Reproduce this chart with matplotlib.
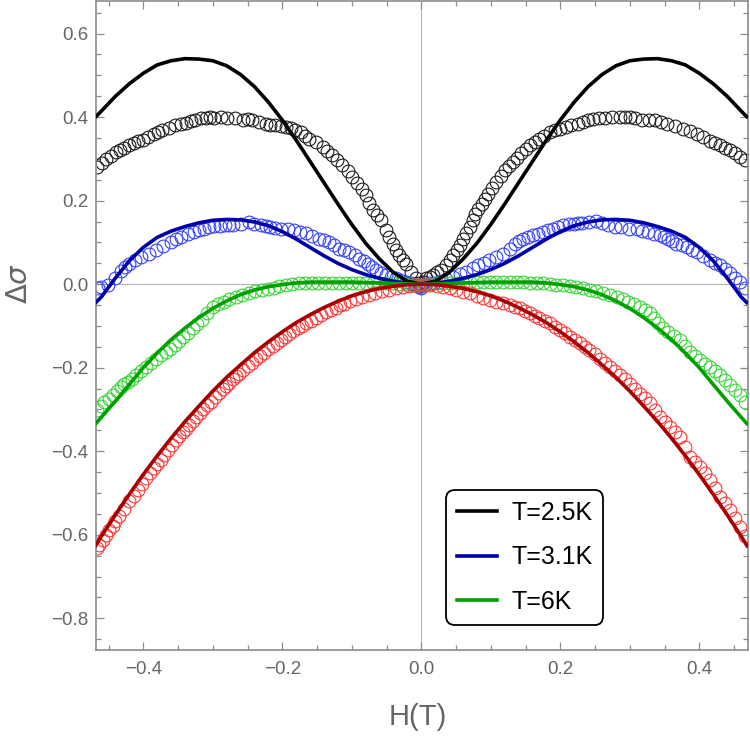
"""
Delta sigma vs H(T): measured points (open circles) and fitted curves.
"""

import matplotlib
matplotlib.use("Agg")
import matplotlib.pyplot as plt
from matplotlib.lines import Line2D
from matplotlib.ticker import MultipleLocator, FuncFormatter

plt.rcParams['font.family'] = ['Liberation Sans', 'DejaVu Sans']

# --- measured points, (H, delta sigma) -------------------------------------
pts_25K = [
    (-0.466, 0.280), (-0.459, 0.290), (-0.453, 0.300), (-0.446, 0.308), (-0.439, 0.317),
    (-0.433, 0.322), (-0.427, 0.327), (-0.420, 0.333), (-0.413, 0.337), (-0.407, 0.342),
    (-0.401, 0.346), (-0.393, 0.353), (-0.385, 0.360), (-0.379, 0.365), (-0.373, 0.370),
    (-0.363, 0.375), (-0.354, 0.380), (-0.346, 0.383), (-0.339, 0.386), (-0.332, 0.390),
    (-0.325, 0.394), (-0.317, 0.397), (-0.310, 0.399), (-0.304, 0.400), (-0.298, 0.399),
    (-0.288, 0.401), (-0.279, 0.399), (-0.268, 0.397), (-0.257, 0.394), (-0.250, 0.395),
    (-0.243, 0.394), (-0.233, 0.388), (-0.224, 0.383), (-0.217, 0.382), (-0.210, 0.380),
    (-0.202, 0.378), (-0.195, 0.376), (-0.188, 0.373), (-0.181, 0.370), (-0.173, 0.364),
    (-0.167, 0.356), (-0.161, 0.348), (-0.152, 0.340), (-0.142, 0.329), (-0.135, 0.319),
    (-0.128, 0.309), (-0.121, 0.297), (-0.114, 0.285), (-0.106, 0.271), (-0.099, 0.257),
    (-0.092, 0.243), (-0.085, 0.229), (-0.080, 0.213), (-0.075, 0.195), (-0.070, 0.177),
    (-0.064, 0.165), (-0.058, 0.153), (-0.051, 0.129), (-0.046, 0.113), (-0.041, 0.097),
    (-0.036, 0.083), (-0.032, 0.069), (-0.027, 0.059), (-0.022, 0.049), (-0.015, 0.030),
    (-0.008, 0.014), (-0.004, 0.004), (0.000, -0.005),
    (0.004, 0.006), (0.007, 0.014), (0.012, 0.018), (0.017, 0.022), (0.023, 0.028),
    (0.029, 0.035), (0.035, 0.046), (0.041, 0.057), (0.046, 0.069), (0.051, 0.081),
    (0.056, 0.095), (0.060, 0.109), (0.065, 0.123), (0.070, 0.137), (0.074, 0.153),
    (0.077, 0.169), (0.082, 0.181), (0.087, 0.193), (0.092, 0.205), (0.096, 0.217),
    (0.102, 0.231), (0.108, 0.245), (0.114, 0.259), (0.120, 0.273), (0.126, 0.283),
    (0.132, 0.293), (0.138, 0.303), (0.144, 0.313), (0.150, 0.323), (0.156, 0.333),
    (0.163, 0.341), (0.170, 0.348), (0.177, 0.356), (0.185, 0.364), (0.192, 0.368),
    (0.199, 0.372), (0.208, 0.376), (0.216, 0.380), (0.225, 0.384), (0.233, 0.388),
    (0.240, 0.392), (0.247, 0.396), (0.256, 0.398), (0.264, 0.399), (0.275, 0.400),
    (0.286, 0.400), (0.293, 0.401), (0.300, 0.400), (0.308, 0.397), (0.317, 0.394),
    (0.327, 0.393), (0.336, 0.392), (0.345, 0.388), (0.353, 0.384), (0.365, 0.378),
    (0.377, 0.372), (0.386, 0.366), (0.396, 0.360), (0.406, 0.352), (0.416, 0.344),
    (0.423, 0.338), (0.430, 0.333), (0.437, 0.327), (0.444, 0.321), (0.452, 0.313),
    (0.459, 0.305), (0.466, 0.297),
]

pts_31K = [
    (-0.465, -0.010), (-0.461, -0.006), (-0.451, -0.002), (-0.441, 0.015), (-0.432, 0.032),
    (-0.426, 0.041), (-0.420, 0.049), (-0.412, 0.057), (-0.403, 0.065), (-0.392, 0.073),
    (-0.382, 0.081), (-0.371, 0.091), (-0.360, 0.101), (-0.353, 0.107), (-0.346, 0.113),
    (-0.336, 0.119), (-0.327, 0.125), (-0.320, 0.129), (-0.312, 0.133), (-0.305, 0.136),
    (-0.298, 0.139), (-0.290, 0.140), (-0.283, 0.141), (-0.277, 0.141), (-0.271, 0.141),
    (-0.260, 0.145), (-0.248, 0.149), (-0.240, 0.145), (-0.231, 0.141), (-0.224, 0.139),
    (-0.217, 0.137), (-0.210, 0.135), (-0.202, 0.133), (-0.192, 0.131), (-0.183, 0.129),
    (-0.175, 0.126), (-0.166, 0.123), (-0.157, 0.116), (-0.147, 0.109), (-0.140, 0.105),
    (-0.133, 0.101), (-0.125, 0.093), (-0.118, 0.085), (-0.111, 0.081), (-0.104, 0.077),
    (-0.096, 0.069), (-0.089, 0.061), (-0.083, 0.055), (-0.077, 0.049), (-0.071, 0.041),
    (-0.065, 0.033), (-0.058, 0.027), (-0.051, 0.022), (-0.044, 0.018), (-0.037, 0.014),
    (-0.030, 0.010), (-0.022, 0.006), (-0.015, 0.002), (-0.008, -0.002), (-0.004, -0.006),
    (0.000, -0.010),
    (0.006, 0.000), (0.012, 0.002), (0.019, 0.004), (0.026, 0.006), (0.036, 0.012),
    (0.046, 0.018), (0.055, 0.024), (0.065, 0.030), (0.074, 0.038), (0.082, 0.045),
    (0.090, 0.051), (0.098, 0.057), (0.108, 0.065), (0.118, 0.073), (0.127, 0.085),
    (0.135, 0.097), (0.141, 0.103), (0.147, 0.109), (0.154, 0.113), (0.161, 0.117),
    (0.168, 0.121), (0.175, 0.125), (0.183, 0.129), (0.190, 0.133), (0.197, 0.137),
    (0.204, 0.141), (0.212, 0.143), (0.219, 0.145), (0.225, 0.146), (0.231, 0.147),
    (0.241, 0.150), (0.252, 0.152), (0.260, 0.147), (0.269, 0.141), (0.278, 0.138),
    (0.288, 0.136), (0.299, 0.133), (0.310, 0.131), (0.318, 0.128), (0.326, 0.125),
    (0.335, 0.121), (0.343, 0.117), (0.349, 0.113), (0.355, 0.109), (0.361, 0.103),
    (0.367, 0.097), (0.375, 0.093), (0.382, 0.089), (0.389, 0.083), (0.396, 0.077),
    (0.405, 0.067), (0.415, 0.057), (0.422, 0.051), (0.430, 0.045), (0.437, 0.036),
    (0.444, 0.026), (0.451, 0.016), (0.458, 0.006), (0.466, -0.010),
]

pts_6K = [
    (-0.466, -0.301), (-0.461, -0.291), (-0.456, -0.281), (-0.450, -0.274), (-0.444, -0.266),
    (-0.438, -0.256), (-0.432, -0.246), (-0.427, -0.240), (-0.422, -0.234), (-0.416, -0.226),
    (-0.410, -0.218), (-0.403, -0.208), (-0.396, -0.198), (-0.389, -0.188), (-0.382, -0.178),
    (-0.375, -0.170), (-0.367, -0.162), (-0.361, -0.154), (-0.355, -0.146), (-0.349, -0.136),
    (-0.343, -0.126), (-0.336, -0.116), (-0.329, -0.106), (-0.322, -0.096), (-0.315, -0.086),
    (-0.308, -0.070), (-0.300, -0.054), (-0.292, -0.048), (-0.284, -0.042), (-0.276, -0.036),
    (-0.267, -0.030), (-0.258, -0.025), (-0.248, -0.021), (-0.239, -0.017), (-0.229, -0.014),
    (-0.221, -0.011), (-0.212, -0.008), (-0.204, -0.005), (-0.195, -0.002), (-0.186, 0.000),
    (-0.176, 0.002), (-0.167, 0.003), (-0.157, 0.003), (-0.148, 0.003), (-0.138, 0.003),
    (-0.128, 0.003), (-0.118, 0.003), (-0.109, 0.002), (-0.099, 0.002), (-0.090, 0.003),
    (-0.080, 0.003), (-0.070, 0.002), (-0.061, 0.002), (-0.051, 0.002), (-0.041, 0.002),
    (-0.032, 0.001), (-0.022, 0.000), (-0.014, -0.001), (-0.005, -0.002),
    (0.003, -0.001), (0.012, 0.000), (0.022, 0.002), (0.031, 0.003), (0.041, 0.003),
    (0.050, 0.003), (0.060, 0.004), (0.070, 0.005), (0.080, 0.005), (0.089, 0.005),
    (0.099, 0.005), (0.108, 0.005), (0.118, 0.005), (0.127, 0.005), (0.137, 0.005),
    (0.147, 0.005), (0.156, 0.004), (0.166, 0.003), (0.175, 0.002), (0.185, 0.000),
    (0.194, -0.001), (0.204, -0.002), (0.214, -0.004), (0.223, -0.006), (0.233, -0.009),
    (0.243, -0.013), (0.252, -0.017), (0.262, -0.021), (0.272, -0.025), (0.281, -0.030),
    (0.290, -0.036), (0.298, -0.042), (0.306, -0.048), (0.314, -0.054), (0.322, -0.062),
    (0.329, -0.070), (0.335, -0.082), (0.341, -0.094), (0.348, -0.104), (0.355, -0.114),
    (0.363, -0.124), (0.372, -0.134), (0.379, -0.148), (0.386, -0.162), (0.394, -0.172),
    (0.401, -0.182), (0.408, -0.190), (0.415, -0.198), (0.422, -0.208), (0.430, -0.218),
    (0.437, -0.230), (0.444, -0.242), (0.451, -0.254), (0.458, -0.266), (0.466, -0.281),
]

pts_red = [
    (-0.466, -0.632), (-0.463, -0.625), (-0.458, -0.612), (-0.454, -0.600), (-0.449, -0.589),
    (-0.444, -0.578), (-0.440, -0.567), (-0.435, -0.556), (-0.428, -0.538), (-0.420, -0.520),
    (-0.414, -0.506), (-0.408, -0.492), (-0.402, -0.478), (-0.396, -0.465), (-0.390, -0.452),
    (-0.384, -0.440), (-0.380, -0.430), (-0.375, -0.420), (-0.370, -0.409), (-0.365, -0.398),
    (-0.359, -0.386), (-0.353, -0.374), (-0.348, -0.364), (-0.343, -0.355), (-0.338, -0.346),
    (-0.334, -0.337), (-0.329, -0.327), (-0.324, -0.318), (-0.319, -0.309), (-0.314, -0.300),
    (-0.308, -0.290), (-0.303, -0.281), (-0.297, -0.270), (-0.291, -0.260), (-0.286, -0.252),
    (-0.281, -0.244), (-0.276, -0.236), (-0.271, -0.228), (-0.266, -0.220), (-0.262, -0.214),
    (-0.256, -0.205), (-0.250, -0.196), (-0.244, -0.188), (-0.238, -0.180), (-0.232, -0.172),
    (-0.226, -0.164), (-0.220, -0.156), (-0.214, -0.148), (-0.208, -0.141), (-0.202, -0.134),
    (-0.196, -0.127), (-0.190, -0.120), (-0.184, -0.113), (-0.178, -0.106), (-0.172, -0.100),
    (-0.166, -0.094), (-0.158, -0.087), (-0.151, -0.080), (-0.144, -0.073), (-0.137, -0.067),
    (-0.130, -0.061), (-0.123, -0.056), (-0.117, -0.051), (-0.111, -0.047), (-0.102, -0.041),
    (-0.094, -0.035), (-0.085, -0.030), (-0.075, -0.025), (-0.066, -0.020), (-0.056, -0.016),
    (-0.047, -0.013), (-0.037, -0.010), (-0.027, -0.007), (-0.017, -0.005), (-0.010, -0.003),
    (-0.003, -0.002),
    (0.005, -0.001), (0.012, -0.002), (0.022, -0.004), (0.031, -0.006), (0.041, -0.010),
    (0.050, -0.014), (0.060, -0.018), (0.070, -0.022), (0.080, -0.028), (0.089, -0.034),
    (0.099, -0.038), (0.108, -0.042), (0.118, -0.046), (0.127, -0.050), (0.135, -0.054),
    (0.142, -0.058), (0.149, -0.064), (0.156, -0.070), (0.163, -0.076), (0.170, -0.082),
    (0.178, -0.088), (0.185, -0.094), (0.192, -0.102), (0.199, -0.110), (0.207, -0.118),
    (0.214, -0.126), (0.221, -0.134), (0.228, -0.142), (0.235, -0.150), (0.242, -0.158),
    (0.250, -0.168), (0.257, -0.178), (0.264, -0.188), (0.271, -0.198), (0.279, -0.208),
    (0.286, -0.218), (0.293, -0.228), (0.300, -0.238), (0.308, -0.250), (0.315, -0.262),
    (0.322, -0.273), (0.329, -0.285), (0.336, -0.301), (0.343, -0.317), (0.351, -0.329),
    (0.358, -0.341), (0.365, -0.353), (0.372, -0.365), (0.379, -0.389), (0.386, -0.413),
    (0.394, -0.425), (0.401, -0.437), (0.408, -0.453), (0.415, -0.469), (0.422, -0.489),
    (0.430, -0.509), (0.437, -0.525), (0.444, -0.541), (0.451, -0.561), (0.458, -0.581),
    (0.466, -0.604),
]

# --- fitted curves ---------------------------------------------------------
h_fit = [-0.47, -0.46, -0.44, -0.42, -0.40, -0.38, -0.36, -0.34, -0.32, -0.30,
         -0.28, -0.26, -0.24, -0.22, -0.20, -0.18, -0.16, -0.14, -0.12, -0.10,
         -0.08, -0.06, -0.04, -0.02, 0.00, 0.02, 0.04, 0.06, 0.08, 0.10,
         0.12, 0.14, 0.16, 0.18, 0.20, 0.22, 0.24, 0.26, 0.28, 0.30,
         0.32, 0.34, 0.36, 0.38, 0.40, 0.42, 0.44, 0.46, 0.47]
fit_25K = [0.398, 0.415, 0.450, 0.480, 0.505, 0.525, 0.535, 0.540, 0.539, 0.535,
           0.523, 0.502, 0.473, 0.436, 0.393, 0.345, 0.294, 0.243, 0.192, 0.143,
           0.098, 0.060, 0.028, 0.007, 0.000, 0.007, 0.028, 0.060, 0.098, 0.143,
           0.192, 0.243, 0.294, 0.345, 0.393, 0.436, 0.473, 0.502, 0.523, 0.535,
           0.539, 0.540, 0.535, 0.525, 0.505, 0.480, 0.450, 0.415, 0.398]
fit_31K = [-0.047, -0.030, 0.015, 0.056, 0.088, 0.112, 0.127, 0.138, 0.147, 0.153,
           0.155, 0.154, 0.149, 0.140, 0.126, 0.108, 0.088, 0.068, 0.050, 0.035,
           0.023, 0.014, 0.007, 0.002, 0.000, 0.002, 0.007, 0.014, 0.023, 0.035,
           0.050, 0.068, 0.088, 0.108, 0.126, 0.140, 0.149, 0.154, 0.155, 0.153,
           0.147, 0.138, 0.127, 0.112, 0.088, 0.056, 0.015, -0.030, -0.047]
fit_6K = [-0.337, -0.318, -0.280, -0.240, -0.200, -0.165, -0.133, -0.105, -0.080, -0.058,
          -0.040, -0.025, -0.014, -0.006, -0.001, 0.003, 0.005, 0.005, 0.005, 0.005,
          0.004, 0.003, 0.002, 0.001, 0.000, 0.001, 0.002, 0.003, 0.004, 0.005,
          0.005, 0.005, 0.005, 0.003, -0.001, -0.006, -0.014, -0.025, -0.040, -0.058,
          -0.080, -0.105, -0.133, -0.165, -0.200, -0.240, -0.280, -0.318, -0.337]
fit_red = [-0.630, -0.603, -0.552, -0.503, -0.456, -0.411, -0.369, -0.329, -0.292, -0.256,
           -0.223, -0.193, -0.164, -0.138, -0.114, -0.092, -0.073, -0.056, -0.041, -0.028,
           -0.018, -0.010, -0.005, -0.001, 0.000, -0.001, -0.005, -0.010, -0.018, -0.028,
           -0.041, -0.056, -0.073, -0.092, -0.114, -0.138, -0.164, -0.193, -0.223, -0.256,
           -0.292, -0.329, -0.369, -0.411, -0.456, -0.503, -0.552, -0.603, -0.630]

legend_labels = ['T=2.5K', 'T=3.1K', 'T=6K']

point_colors = ['#1a1a1a', '#3340ff', '#33d433', '#ff3535']
fit_colors = ['#000000', '#0000a8', '#00a000', '#a80000']

GRAY = '#8c8c8c'
TEXT = '#666666'

fig = plt.figure(figsize=(7.5, 7.36), dpi=100)
ax = fig.add_axes([0.128, 0.1168, 0.8693, 0.8818])

# axes through the origin
ax.axhline(0, color='#b4b4b4', lw=0.8, zorder=0)
ax.axvline(0, color='#b4b4b4', lw=0.8, zorder=0)

for pts, c in zip([pts_25K, pts_31K, pts_6K, pts_red], point_colors):
    hx, dy = zip(*pts)
    ax.plot(hx, dy, 'o', mfc='none', mec=c, ms=9.2, mew=0.8, zorder=2)

for fy, c in zip([fit_25K, fit_31K, fit_6K, fit_red], fit_colors):
    ax.plot(h_fit, fy, '-', color=c, lw=2.6, solid_capstyle='butt', zorder=3)

ax.set_xlim(-0.468, 0.470)
ax.set_ylim(-0.876, 0.678)

fmt = FuncFormatter(lambda v, _: f'{v:.1f}'.replace('-', '\u2212') if abs(v) > 1e-9 else '0.0')
ax.xaxis.set_major_locator(MultipleLocator(0.2))
ax.xaxis.set_minor_locator(MultipleLocator(0.05))
ax.yaxis.set_major_locator(MultipleLocator(0.2))
ax.yaxis.set_minor_locator(MultipleLocator(0.05))
ax.xaxis.set_major_formatter(fmt)
ax.yaxis.set_major_formatter(fmt)

ax.tick_params(which='both', direction='in', top=True, right=True,
               color=GRAY, labelcolor=TEXT, labelsize=13.5, width=0.9)
ax.tick_params(which='major', length=6)
ax.tick_params(which='minor', length=3.5)
ax.tick_params(axis='x', pad=8)
ax.tick_params(axis='y', pad=5.5)

for sp in ax.spines.values():
    sp.set_color(GRAY)
    sp.set_linewidth(1.2)

ax.set_xlabel('H(T)', fontsize=21, color=TEXT)
ax.xaxis.label.set_verticalalignment('center')
ax.xaxis.set_label_coords(0.4935, -0.103)
ax.set_ylabel(r'$\Delta\sigma$', fontsize=21, color=TEXT)
ax.yaxis.label.set_verticalalignment('center')
ax.yaxis.set_label_coords(-0.118, 0.565)

handles = [Line2D([], [], color=c, lw=2.6) for c in fit_colors[:3]]
leg = ax.legend(handles, legend_labels, loc='upper left', bbox_to_anchor=(0.537, 0.2465),
                borderaxespad=0, fontsize=18, handlelength=1.6, handletextpad=0.6,
                labelspacing=0.83, borderpad=0.42, frameon=True, fancybox=True,
                framealpha=1, edgecolor='black')
leg.get_frame().set_linewidth(1.3)
leg.get_frame().set_boxstyle('round,pad=0,rounding_size=0.35')

fig.savefig('out.png', dpi=100)
